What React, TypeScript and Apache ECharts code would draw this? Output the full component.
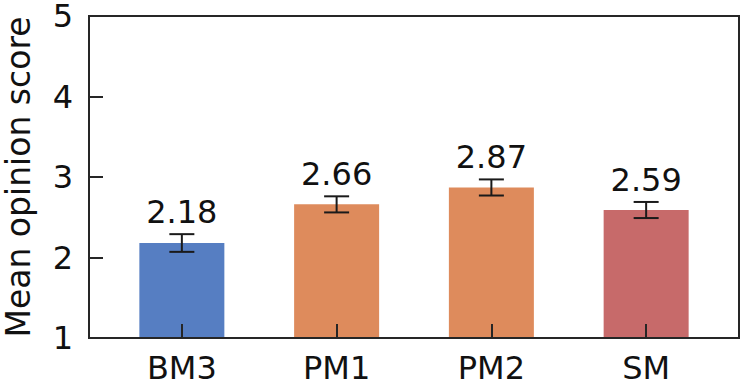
import React, { useEffect, useRef } from "react";
import * as echarts from "echarts";

const categories = ["BM3", "PM1", "PM2", "SM"];
const means = [2.18, 2.66, 2.87, 2.59];
const errors = [0.11, 0.1, 0.1, 0.1];
const barColors = ["#567ec2", "#de8b5c", "#de8b5c", "#c76a6a"];
const yTicks = [1, 2, 3, 4, 5];
const xTicks = [0, 1, 2, 3];

const FONT = "DejaVu Sans";
const INK = "#262626";

export default function App() {
  const ref = useRef<HTMLDivElement>(null);
  useEffect(() => {
    document.body.style.margin = "0";
    const chart = echarts.init(ref.current!, undefined, { renderer: "svg" });
    chart.setOption({
      animation: false,
      backgroundColor: "#ffffff",
      grid: {
        left: 89,
        top: 15,
        width: 650,
        height: 323,
        show: true,
        borderColor: INK,
        borderWidth: 2,
        backgroundColor: "transparent",
      },
      xAxis: {
        type: "value",
        min: -0.6,
        max: 3.6,
        z: 10,
        splitLine: { show: false },
        axisLine: { show: true, onZero: false, lineStyle: { color: INK, width: 2 } },
        axisTick: {
          show: true,
          inside: true,
          length: 14,
          lineStyle: { color: INK, width: 2 },
          customValues: xTicks,
        },
        axisLabel: {
          customValues: xTicks,
          formatter: (v: number) => categories[Math.round(v)] ?? "",
          fontFamily: FONT,
          fontSize: 32,
          color: "#111",
          margin: 14,
        },
      },
      yAxis: {
        type: "value",
        min: 1,
        max: 5,
        interval: 1,
        z: 10,
        splitLine: { show: false },
        axisLine: { show: true, onZero: false, lineStyle: { color: INK, width: 2 } },
        axisTick: {
          show: true,
          inside: true,
          length: 14,
          lineStyle: { color: INK, width: 2 },
        },
        axisLabel: {
          customValues: yTicks,
          fontFamily: FONT,
          fontSize: 32,
          lineHeight: 28,
          color: "#111",
          margin: 16,
        },
      },
      graphic: [
        {
          type: "text",
          x: 18,
          y: 177,
          rotation: Math.PI / 2,
          style: {
            text: "Mean opinion score",
            fontFamily: FONT,
            fontSize: 33,
            lineHeight: 33,
            fill: "#111",
            align: "center",
            verticalAlign: "middle",
          },
        },
      ],
      series: [
        {
          type: "bar",
          barWidth: 85,
          data: means.map((m, i) => ({
            value: [i, m],
            itemStyle: { color: barColors[i] },
          })),
        },
        {
          type: "custom",
          z: 20,
          data: means.map((m, i) => [i, m, errors[i]]),
          renderItem: (params: any, api: any) => {
            const x = api.value(0);
            const m = api.value(1);
            const e = api.value(2);
            const top = api.coord([x, m + e]);
            const bot = api.coord([x, m - e]);
            const half = 12.5;
            const st = { stroke: "#1a1a1a", lineWidth: 2 };
            return {
              type: "group",
              children: [
                { type: "line", shape: { x1: top[0], y1: top[1], x2: bot[0], y2: bot[1] }, style: st },
                { type: "line", shape: { x1: top[0] - half, y1: top[1], x2: top[0] + half, y2: top[1] }, style: st },
                { type: "line", shape: { x1: bot[0] - half, y1: bot[1], x2: bot[0] + half, y2: bot[1] }, style: st },
                {
                  type: "text",
                  x: top[0],
                  y: top[1] - 22,
                  style: {
                    text: m.toFixed(2),
                    fontFamily: FONT,
                    fontSize: 32,
                    fill: "#111",
                    align: "center",
                    verticalAlign: "middle",
                  },
                },
              ],
            };
          },
        },
      ],
    });
    return () => chart.dispose();
  }, []);
  return <div ref={ref} style={{ width: 742, height: 389 }} />;
}
